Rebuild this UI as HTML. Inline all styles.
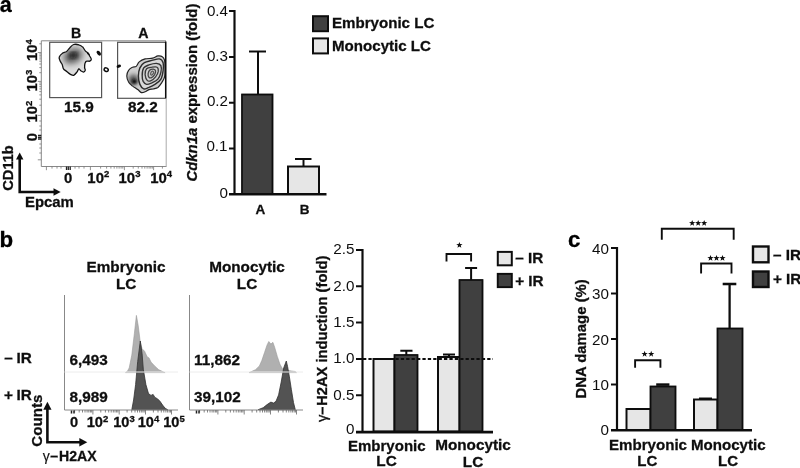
<!DOCTYPE html>
<html><head><meta charset="utf-8">
<style>
html,body{margin:0;padding:0;background:#fff;}
body{width:800px;height:468px;overflow:hidden;}
svg{display:block;font-family:"Liberation Sans",sans-serif;}
.b{font-weight:bold;}
.ax{stroke:#111;stroke-width:2.2;fill:none;}
.tk{stroke:#111;stroke-width:2;fill:none;}
.dk{fill:#404040;stroke:#111;stroke-width:1.8;}
.lt{fill:#e6e6e6;stroke:#111;stroke-width:2;}
.eb{stroke:#111;stroke-width:2;fill:none;}
.br{stroke:#111;stroke-width:1.9;fill:none;}
.t{font-size:15.2px;fill:#111;}
.tb{font-size:15.3px;font-weight:bold;fill:#111;stroke:#111;stroke-width:0.3px;}
.gate{fill:none;stroke:#555;stroke-width:1.2;}
.thin{stroke:#777;stroke-width:1;fill:none;}
</style></head><body>
<svg width="800" height="468" viewBox="0 0 800 468">
<defs>
<filter id="bl1" x="-30%" y="-30%" width="160%" height="160%"><feGaussianBlur stdDeviation="2.2"/></filter>
<filter id="bl3" x="-40%" y="-40%" width="180%" height="180%"><feGaussianBlur stdDeviation="3.2"/></filter>
<filter id="bl2" x="-30%" y="-30%" width="160%" height="160%"><feGaussianBlur stdDeviation="1.2"/></filter>
<filter id="soft"><feGaussianBlur stdDeviation="0.45"/></filter>
</defs>
<rect width="800" height="468" fill="#fff"/>
<g filter="url(#soft)">
<!-- ================= PANEL a ================= -->
<text x="-0.300" y="12.300" class="b" style="font-size:21.500px;stroke:#000;stroke-width:0.3px">a</text>

<!-- flow plot a -->
<g id="flowA">
<path d="M166 40.800H41.300V166.500H166.500" fill="none" stroke="#888" stroke-width="1"/><path d="M166.200 98V166.500" fill="none" stroke="#aaa" stroke-width="1"/>
<rect class="gate" x="49.700" y="42.300" width="51.900" height="55.300"/>
<rect class="gate" x="117.600" y="42.300" width="48" height="56"/>
<text x="76.200" y="37.700" text-anchor="middle" class="tb" style="font-size:14.2px">B</text>
<text x="143.300" y="37.700" text-anchor="middle" class="tb" style="font-size:14.2px">A</text>
<text x="79" y="111.700" text-anchor="middle" class="tb">15.9</text>
<text x="143" y="111.700" text-anchor="middle" class="tb">82.2</text>
<!-- blob B -->
<path d="M59.2 57.3 C59.6 56.0 60.9 54.4 62.2 53.5 C63.4 52.5 65.4 52.5 66.7 51.5 C67.9 50.6 68.7 48.9 69.9 47.7 C71.0 46.5 72.2 45.0 73.7 44.5 C75.2 44.0 77.4 44.4 78.8 44.9 C80.3 45.3 81.6 46.0 82.7 47.1 C83.8 48.1 84.4 49.9 85.3 50.9 C86.1 51.9 87.1 52.0 87.8 52.8 C88.6 53.7 89.2 55.0 89.7 56.0 C90.3 57.1 91.3 58.4 91.3 59.2 C91.3 60.1 90.5 60.8 89.7 61.2 C89.0 61.5 87.4 60.7 86.5 61.2 C85.7 61.6 85.2 62.6 84.9 63.7 C84.6 64.8 84.6 66.5 84.6 67.6 C84.7 68.6 85.4 69.4 85.3 70.1 C85.1 70.9 84.3 71.9 83.6 72.1 C82.8 72.2 81.6 71.3 80.8 70.8 C80.0 70.2 79.5 68.6 78.8 68.8 C78.2 69.1 77.8 71.0 76.9 72.1 C76.1 73.1 74.8 74.9 73.7 75.3 C72.6 75.6 71.7 75.0 70.5 74.4 C69.3 73.7 67.8 72.3 66.7 71.4 C65.5 70.5 64.2 70.0 63.5 68.8 C62.7 67.7 62.7 65.6 62.2 64.4 C61.6 63.1 60.7 62.3 60.3 61.2 C59.8 60.0 58.9 58.6 59.2 57.3Z" fill="#dcdcdc" stroke="#111" stroke-width="1.3"/>
<clipPath id="cB"><path d="M59.2 57.3 C59.6 56.0 60.9 54.4 62.2 53.5 C63.4 52.5 65.4 52.5 66.7 51.5 C67.9 50.6 68.7 48.9 69.9 47.7 C71.0 46.5 72.2 45.0 73.7 44.5 C75.2 44.0 77.4 44.4 78.8 44.9 C80.3 45.3 81.6 46.0 82.7 47.1 C83.8 48.1 84.4 49.9 85.3 50.9 C86.1 51.9 87.1 52.0 87.8 52.8 C88.6 53.7 89.2 55.0 89.7 56.0 C90.3 57.1 91.3 58.4 91.3 59.2 C91.3 60.1 90.5 60.8 89.7 61.2 C89.0 61.5 87.4 60.7 86.5 61.2 C85.7 61.6 85.2 62.6 84.9 63.7 C84.6 64.8 84.6 66.5 84.6 67.6 C84.7 68.6 85.4 69.4 85.3 70.1 C85.1 70.9 84.3 71.9 83.6 72.1 C82.8 72.2 81.6 71.3 80.8 70.8 C80.0 70.2 79.5 68.6 78.8 68.8 C78.2 69.1 77.8 71.0 76.9 72.1 C76.1 73.1 74.8 74.9 73.7 75.3 C72.6 75.6 71.7 75.0 70.5 74.4 C69.3 73.7 67.8 72.3 66.7 71.4 C65.5 70.5 64.2 70.0 63.5 68.8 C62.7 67.7 62.7 65.6 62.2 64.4 C61.6 63.1 60.7 62.3 60.3 61.2 C59.8 60.0 58.9 58.6 59.2 57.3Z"/></clipPath>
<g clip-path="url(#cB)"><ellipse cx="73" cy="56" rx="10" ry="7" fill="#555" filter="url(#bl3)" transform="rotate(-25 73 56)"/><ellipse cx="73.300" cy="55.200" rx="3.500" ry="2.500" fill="#111" filter="url(#bl1)"/></g>
<path d="M86.500 51.500 l2.800 2.200 l0.800 2.200 l-3 -2z" fill="#111"/>
<!-- specks -->
<ellipse cx="98.800" cy="53.200" rx="1.700" ry="2.800" fill="#111" transform="rotate(-40 98.800 53.200)"/>
<ellipse cx="118.800" cy="66.200" rx="2.300" ry="1.500" fill="#111" transform="rotate(-20 118.800 66.200)"/>
<ellipse cx="106.200" cy="69.700" rx="2.100" ry="1.700" fill="#fff" stroke="#111" stroke-width="1.500" transform="rotate(25 106.200 69.700)"/>
<!-- blob A -->
<path d="M126.8 76.1 C126.8 74.1 127.7 71.7 128.7 70.2 C129.6 68.7 131.2 67.8 132.4 67.2 C133.7 66.5 135.1 67.3 136.2 66.4 C137.3 65.5 137.7 63.2 139.2 61.9 C140.7 60.7 142.9 59.6 145.1 58.9 C147.4 58.3 150.5 58.7 152.6 58.2 C154.7 57.7 156.2 56.2 157.9 55.9 C159.5 55.7 161.2 55.9 162.3 56.7 C163.5 57.4 164.1 58.6 164.6 60.4 C165.0 62.3 165.0 65.2 165.0 67.9 C165.0 70.7 165.2 74.4 164.6 76.9 C164.0 79.4 162.7 81.1 161.6 82.9 C160.5 84.6 159.2 86.4 157.9 87.4 C156.5 88.4 154.9 88.5 153.4 88.9 C151.9 89.2 150.3 89.1 148.9 89.6 C147.5 90.1 146.4 91.3 145.1 91.8 C143.9 92.3 142.7 93.0 141.4 92.6 C140.2 92.2 139.2 90.7 137.7 89.6 C136.2 88.5 133.9 87.1 132.4 85.9 C130.9 84.6 129.6 83.7 128.7 82.1 C127.7 80.5 126.8 78.1 126.8 76.1Z" fill="#cfcfcf" stroke="#222" stroke-width="1.2"/>
<clipPath id="cA"><path d="M126.8 76.1 C126.8 74.1 127.7 71.7 128.7 70.2 C129.6 68.7 131.2 67.8 132.4 67.2 C133.7 66.5 135.1 67.3 136.2 66.4 C137.3 65.5 137.7 63.2 139.2 61.9 C140.7 60.7 142.9 59.6 145.1 58.9 C147.4 58.3 150.5 58.7 152.6 58.2 C154.7 57.7 156.2 56.2 157.9 55.9 C159.5 55.7 161.2 55.9 162.3 56.7 C163.5 57.4 164.1 58.6 164.6 60.4 C165.0 62.3 165.0 65.2 165.0 67.9 C165.0 70.7 165.2 74.4 164.6 76.9 C164.0 79.4 162.7 81.1 161.6 82.9 C160.5 84.6 159.2 86.4 157.9 87.4 C156.5 88.4 154.9 88.5 153.4 88.9 C151.9 89.2 150.3 89.1 148.9 89.6 C147.5 90.1 146.4 91.3 145.1 91.8 C143.9 92.3 142.7 93.0 141.4 92.6 C140.2 92.2 139.2 90.7 137.7 89.6 C136.2 88.5 133.9 87.1 132.4 85.9 C130.9 84.6 129.6 83.7 128.7 82.1 C127.7 80.5 126.8 78.1 126.8 76.1Z"/></clipPath>
<g clip-path="url(#cA)"><ellipse cx="133.500" cy="80" rx="5" ry="5.500" fill="#555" filter="url(#bl1)"/><ellipse cx="134.300" cy="81.500" rx="2.500" ry="2.200" fill="#111" filter="url(#bl2)"/></g>
<path d="M138.4 76.1 C138.4 73.4 138.9 70.2 139.9 67.9 C140.9 65.7 142.4 63.9 144.4 62.7 C146.4 61.4 149.4 61.1 151.9 60.4 C154.4 59.8 157.5 58.6 159.4 58.9 C161.2 59.3 162.5 60.7 163.1 62.7 C163.7 64.7 163.5 68.2 163.1 70.9 C162.7 73.6 162.2 76.9 160.9 79.1 C159.5 81.4 156.9 83.0 154.9 84.4 C152.9 85.7 150.8 86.6 148.9 87.4 C147.0 88.1 145.1 89.4 143.7 88.9 C142.2 88.4 140.8 86.5 139.9 84.4 C139.0 82.2 138.4 78.9 138.4 76.1Z" fill="#d8d8d8" stroke="#2a2a2a" stroke-width="1.400"/>
<path d="M142.2 75.4 C142.2 73.1 142.5 69.7 143.7 67.9 C144.8 66.2 146.8 65.7 148.9 64.9 C151.0 64.2 154.4 63.3 156.4 63.4 C158.4 63.6 160.1 64.2 160.9 65.7 C161.6 67.2 161.4 70.2 160.9 72.4 C160.4 74.6 159.4 77.4 157.9 79.1 C156.4 80.9 153.7 82.0 151.9 82.9 C150.0 83.7 148.1 84.6 146.6 84.4 C145.2 84.1 144.0 82.9 143.2 81.4 C142.5 79.9 142.1 77.6 142.2 75.4Z" fill="#cfcfcf" stroke="#333" stroke-width="1.400"/>
<path d="M145.1 74.6 C145.0 72.6 145.5 69.9 146.6 68.7 C147.8 67.4 150.1 67.4 151.9 67.2 C153.6 66.9 156.1 66.4 157.1 67.2 C158.2 67.9 158.4 70.0 158.2 71.7 C157.9 73.3 156.8 75.4 155.6 76.9 C154.4 78.4 152.5 80.0 151.1 80.6 C149.8 81.2 148.4 81.6 147.4 80.6 C146.4 79.6 145.3 76.6 145.1 74.6Z" fill="#d4d4d4" stroke="#3a3a3a" stroke-width="1.300"/>
<path d="M148.1 73.9 C148.3 72.7 148.8 71.0 149.6 70.2 C150.5 69.4 152.4 69.0 153.4 69.1 C154.4 69.2 155.4 70.0 155.6 70.9 C155.8 71.8 155.2 73.5 154.6 74.6 C153.9 75.8 152.5 77.2 151.6 77.6 C150.6 78.1 149.5 77.8 148.9 77.2 C148.3 76.6 148.0 75.1 148.1 73.9Z" fill="#c8c8c8" stroke="#444" stroke-width="1.300"/>
<path d="M150.7 73.1 C150.9 72.5 151.7 71.4 152.2 71.2 C152.7 71.0 153.6 71.6 153.7 72.1 C153.8 72.6 153.2 73.7 152.8 74.2 C152.4 74.7 151.5 75.3 151.1 75.1 C150.8 74.9 150.5 73.8 150.7 73.1Z" fill="#bbb" stroke="#555" stroke-width="1.100"/>
<path d="M165.700 41.500V98" stroke="#111" stroke-width="1.500" fill="none"/>
<!-- y tick labels rotated -->
<g class="tb" style="font-size:14.8px">
<text transform="translate(37 50) rotate(-90)" text-anchor="middle">10<tspan dy="-5" style="font-size:9.500px">4</tspan></text>
<text transform="translate(37 80.500) rotate(-90)" text-anchor="middle">10<tspan dy="-5" style="font-size:9.500px">3</tspan></text>
<text transform="translate(37 111.500) rotate(-90)" text-anchor="middle">10<tspan dy="-5" style="font-size:9.500px">2</tspan></text>
<text transform="translate(36.500 137.200) rotate(-90)" text-anchor="middle">0</text>
</g>
<g class="tb" style="font-size:14.9px">
<text x="68.200" y="182.800" text-anchor="middle">0</text>
<text x="98.300" y="182.800" text-anchor="middle">10<tspan dy="-5.500" style="font-size:9.500px">2</tspan></text>
<text x="129.500" y="182.800" text-anchor="middle">10<tspan dy="-5.500" style="font-size:9.500px">3</tspan></text>
<text x="161.200" y="182.800" text-anchor="middle">10<tspan dy="-5.500" style="font-size:9.500px">4</tspan></text>
</g>
<!-- ticks -->
<path d="M37.800 52.5H41.300 M37.800 81.4H41.300 M37.800 115.4H41.300 M37.800 159.8H41.300 M39.300 72.7H41.300 M39.300 67.6H41.300 M39.300 64.0H41.300 M39.300 61.2H41.300 M39.300 58.9H41.300 M39.300 57.0H41.300 M39.300 55.3H41.300 M39.300 53.8H41.300 M39.300 105.2H41.300 M39.300 99.2H41.300 M39.300 94.9H41.300 M39.300 91.6H41.300 M39.300 88.9H41.300 M39.300 86.7H41.300 M39.300 84.7H41.300 M39.300 83.0H41.300 M39.300 43.8H41.300 M39.300 121H41.300 M39.300 126H41.300 M39.300 130H41.300 M39.300 144H41.300 M39.300 148H41.300 M39.300 153H41.300 M46.4 166.500V170.200 M90.4 166.500V170.200 M124.4 166.500V170.200 M153.6 166.500V170.200 M100.6 166.500V168.600 M106.6 166.500V168.600 M110.9 166.500V168.600 M114.2 166.500V168.600 M116.9 166.500V168.600 M119.1 166.500V168.600 M121.1 166.500V168.600 M122.8 166.500V168.600 M133.2 166.500V168.600 M138.3 166.500V168.600 M142.0 166.500V168.600 M144.8 166.500V168.600 M147.1 166.500V168.600 M149.1 166.500V168.600 M150.8 166.500V168.600 M152.3 166.500V168.600 M162.4 166.500V168.600 M52 166.500V168.600 M57 166.500V168.600 M61 166.500V168.600 M75 166.500V168.600 M79 166.500V168.600 M84 166.500V168.600 " stroke="#777" stroke-width="0.800" fill="none"/>
<path d="M38 135.500H41.300M38 137.300H41.300M38 139H41.300M66.500 166.500V170M68.300 166.500V170M70.200 166.500V170" stroke="#222" stroke-width="1.300" fill="none"/>
<!-- arrows -->
<path d="M19.700 157 V192 H55" stroke="#111" stroke-width="2.600" fill="none"/>
<path d="M19.700 152.600 L16 159.500 H23.400 Z" fill="#111"/>
<path d="M60.700 192 L53.500 188.200 V195.800 Z" fill="#111"/>
<text transform="translate(12.500 168) rotate(-90)" text-anchor="middle" class="tb" style="font-size:14.6px">CD11b</text>
<text x="25" y="206.500" class="tb" style="font-size:14.9px">Epcam</text>
</g>

<!-- bar chart a -->
<g id="barA">
<text transform="translate(196.600 92.600) rotate(-90)" text-anchor="middle" class="tb" style="font-size:14.9px"><tspan font-style="italic">Cdkn1a</tspan> expression (fold)</text>
<rect class="dk" x="242" y="94.500" width="30.500" height="99.500"/>
<rect class="lt" x="288" y="166.5" width="31" height="27.5"/>
<path class="eb" d="M258 94V51.5 M249 51.5H266"/>
<path class="eb" d="M303.5 166V159 M295 159H311.5"/>
<path class="ax" d="M234.500 10 V194"/><path d="M229 194.200 H326.500" stroke="#111" stroke-width="2.600" fill="none"/>
<path class="tk" d="M229 11H234 M229 57H234 M229 102.8H234 M229 148.6H234"/>
<g class="t" text-anchor="end">
<text x="228" y="15.800">0.4</text>
<text x="228" y="61">0.3</text>
<text x="228" y="106">0.2</text>
<text x="227.500" y="151">0.1</text>
<text x="228" y="198.300">0</text>
</g>
<text x="260.300" y="213.500" text-anchor="middle" class="tb" style="font-size:13.5px">A</text>
<text x="304.700" y="213.500" text-anchor="middle" class="tb" style="font-size:13.5px">B</text>
<rect class="dk" x="313" y="16.200" width="15" height="15" style="stroke-width:2"/>
<rect class="lt" x="313" y="38.400" width="15" height="15" style="stroke-width:2"/>
<text x="332" y="27.800" class="tb" style="font-size:15.1px">Embryonic LC</text>
<text x="332" y="51.300" class="tb" style="font-size:15.1px">Monocytic LC</text>
</g>

<!-- ================= PANEL b ================= -->
<text x="-0.500" y="247.200" class="b" style="font-size:22.300px;stroke:#000;stroke-width:0.3px">b</text>
<g id="histB">
<text x="126.100" y="272" text-anchor="middle" class="tb">Embryonic</text>
<text x="126.100" y="289" text-anchor="middle" class="tb">LC</text>
<text x="247" y="272" text-anchor="middle" class="tb">Monocytic</text>
<text x="247" y="289" text-anchor="middle" class="tb">LC</text>
<text x="4.300" y="362.700" class="tb">–</text><text x="16.400" y="362.700" class="tb">IR</text>
<text x="4" y="400.200" class="tb">+</text><text x="16.400" y="400.200" class="tb">IR</text>
<!-- panel 1 -->
<path d="M125.4 372.6 L127.4 371.3 L129.2 367.9 L131.8 355.1 L134.4 333.3 L136.4 315.4 L138.2 325.6 L140.3 342.3 L142.1 348.7 L144.6 351.3 L147.2 356.9 L149.0 357.9 L151.0 362.1 L154.9 366.2 L158.7 369.7 L163.8 372.1 L165.1 372.6Z" fill="#b0b0b0" stroke="#999" stroke-width="0.600"/>
<path d="M131.8 409.7 L133.6 400.0 L135.6 384.6 L137.7 361.5 L140.3 341.0 L142.1 353.8 L143.3 369.2 L145.9 384.6 L148.5 393.6 L151.0 395.4 L153.1 394.4 L154.9 397.4 L157.4 398.7 L160.0 401.3 L162.6 405.1 L165.1 408.2 L167.7 409.7Z" fill="#525252" stroke="#333" stroke-width="0.800"/>
<path d="M64.500 295 V410 H178" stroke="#888" stroke-width="1" fill="none"/>
<path d="M64.500 372 H178" stroke="#ececec" stroke-width="1" fill="none"/>
<!-- panel 2 -->
<path d="M249.1 372.6 L255.5 369.7 L259.4 365.9 L261.9 360.3 L264.5 352.6 L267.1 344.9 L268.8 341.5 L270.9 344.1 L272.9 342.3 L274.7 347.4 L277.3 356.4 L279.9 364.1 L282.4 368.7 L286.3 370.3 L295.3 371.5 L296.5 372.6Z" fill="#b0b0b0" stroke="#999" stroke-width="0.600"/>
<path d="M258.1 409.7 L263.2 407.7 L267.1 404.6 L270.9 402.1 L273.5 403.1 L276.0 401.3 L278.6 394.9 L281.2 382.1 L283.7 367.9 L286.3 361.0 L287.6 366.7 L289.4 376.9 L291.4 389.7 L293.5 402.6 L295.3 409.7Z" fill="#525252" stroke="#333" stroke-width="0.800"/>
<path d="M189.500 295 V410 H303" stroke="#888" stroke-width="1" fill="none"/>
<path d="M189.500 372 H303" stroke="#ececec" stroke-width="1" fill="none"/>
<text x="69.500" y="364.500" class="tb">6,493</text>
<text x="69.500" y="402.400" class="tb">8,989</text>
<text x="194" y="364.500" class="tb">11,862</text>
<text x="194" y="402.400" class="tb">39,102</text>
<!-- x ticks -->
<path d="M92.9 410V414.500 M119.2 410V414.500 M145.5 410V414.500 M171.5 410V414.500 M74.6 410V412.500 M79.2 410V412.500 M82.5 410V412.500 M85.0 410V412.500 M87.1 410V412.500 M88.8 410V412.500 M90.4 410V412.500 M91.7 410V412.500 M100.8 410V412.500 M105.4 410V412.500 M108.7 410V412.500 M111.2 410V412.500 M113.3 410V412.500 M115.0 410V412.500 M116.6 410V412.500 M117.9 410V412.500 M127.1 410V412.500 M131.7 410V412.500 M135.0 410V412.500 M137.5 410V412.500 M139.6 410V412.500 M141.3 410V412.500 M142.9 410V412.500 M144.2 410V412.500 M153.4 410V412.500 M158.0 410V412.500 M161.3 410V412.500 M163.8 410V412.500 M165.9 410V412.500 M167.6 410V412.500 M169.2 410V412.500 M170.5 410V412.500 M217.9 410V414.500 M244.2 410V414.500 M270.5 410V414.500 M296.5 410V414.500 M199.6 410V412.500 M204.2 410V412.500 M207.5 410V412.500 M210.0 410V412.500 M212.1 410V412.500 M213.8 410V412.500 M215.4 410V412.500 M216.7 410V412.500 M225.8 410V412.500 M230.4 410V412.500 M233.7 410V412.500 M236.2 410V412.500 M238.3 410V412.500 M240.0 410V412.500 M241.6 410V412.500 M242.9 410V412.500 M252.1 410V412.500 M256.7 410V412.500 M260.0 410V412.500 M262.5 410V412.500 M264.6 410V412.500 M266.3 410V412.500 M267.9 410V412.500 M269.2 410V412.500 M278.4 410V412.500 M283.0 410V412.500 M286.3 410V412.500 M288.8 410V412.500 M290.9 410V412.500 M292.6 410V412.500 M294.2 410V412.500 M295.5 410V412.500 " stroke="#666" stroke-width="0.8" fill="none"/><path d="M71.500 410.500V413.500M74 410.500V413.500M196.500 410.500V413.500M199 410.500V413.500" stroke="#222" stroke-width="1.500" fill="none"/>
<g class="tb" style="font-size:14.6px">
<text x="74" y="427" text-anchor="middle">0</text>
<text x="97.500" y="427" text-anchor="middle">10<tspan dy="-5.500" style="font-size:9.500px">2</tspan></text>
<text x="124" y="427" text-anchor="middle">10<tspan dy="-5.500" style="font-size:9.500px">3</tspan></text>
<text x="148.500" y="427" text-anchor="middle">10<tspan dy="-5.500" style="font-size:9.500px">4</tspan></text>
<text x="174" y="427" text-anchor="middle">10<tspan dy="-5.500" style="font-size:9.500px">5</tspan></text>
</g>
<!-- arrows -->
<path d="M47.400 408 V442.200 H81" stroke="#111" stroke-width="2.600" fill="none"/>
<path d="M47.400 401.800 L43.300 409.800 H51.500 Z" fill="#111"/>
<path d="M87.300 442.200 L79.300 438 V446.400 Z" fill="#111"/>
<text transform="translate(41.900 420.700) rotate(-90)" text-anchor="middle" class="tb" style="font-size:15.1px">Counts</text>
<g class="tb" style="font-size:14.1px"><text x="59" y="460.600">H2AX</text><text x="50.200" y="460.600">–</text><text x="42.800" y="460.600" style="font-weight:normal;stroke-width:0.15px">γ</text></g>
</g>

<g id="barB">
<text transform="translate(326.500 405.800) rotate(-90)" class="tb" style="font-size:14.7px">H2AX induction (fold)</text><text transform="translate(326.500 406.600) rotate(-90)" text-anchor="end" class="tb" style="font-size:14.7px"><tspan style="font-weight:normal">γ</tspan>–</text>
<rect class="lt" x="373.500" y="359" width="21" height="72.500"/>
<rect class="dk" x="394.500" y="355" width="23" height="76.500"/>
<rect class="lt" x="438" y="357" width="21.500" height="74.500"/>
<rect class="dk" x="459.500" y="280" width="23" height="151.500"/>
<path class="eb" d="M406.300 355V350.700 M400.300 350.700H412.500"/>
<path class="eb" d="M449 357V354.500 M443 354.500H455"/>
<path class="eb" d="M471.100 280V268.100 M465.100 268.100H477.100"/>
<path d="M363 359H493" stroke="#111" stroke-width="2" stroke-dasharray="3.300 2.100" fill="none"/>
<path class="ax" d="M362.500 249 V431.500"/><path d="M356 432.100 H493" stroke="#111" stroke-width="2.600" fill="none"/>
<path class="tk" d="M356 250H362 M356 286.300H362 M356 322.600H362 M356 358.900H362 M356 395.200H362"/>
<g class="t" text-anchor="end">
<text x="354.400" y="253.800">2.5</text>
<text x="354.400" y="290.600">2.0</text>
<text x="354.400" y="327">1.5</text>
<text x="354.400" y="363.400">1.0</text>
<text x="354.400" y="399.900">0.5</text>
<text x="354.400" y="434.200">0</text>
</g>
<path class="br" d="M446.500 261.500V254H471.100V261.500"/>
<polygon points="459.40,241.90 460.19,244.11 462.54,244.18 460.68,245.62 461.34,247.87 459.40,246.55 457.46,247.87 458.12,245.62 456.26,244.18 458.61,244.11" fill="#111"/>
<rect class="lt" x="497.800" y="251.900" width="14" height="13.400"/>
<rect class="dk" x="497.800" y="273.900" width="14" height="13.200" style="stroke-width:2"/>
<text x="515.200" y="263.400" class="tb">– IR</text>
<text x="515.200" y="286" class="tb">+ IR</text>
<text x="386.800" y="450.600" text-anchor="middle" class="tb" style="font-size:15px">Embryonic</text>
<text x="386.500" y="466.200" text-anchor="middle" class="tb">LC</text>
<text x="473" y="450" text-anchor="middle" class="tb">Monocytic</text>
<text x="473" y="466.500" text-anchor="middle" class="tb">LC</text>
</g>

<!-- ================= PANEL c ================= -->
<text x="568" y="247.100" class="b" style="font-size:22.200px;stroke:#000;stroke-width:0.3px">c</text>
<g id="barC">
<text transform="translate(586 279.200) rotate(-90)" text-anchor="end" class="tb" style="font-size:14.9px">DNA damage (%)</text>
<rect class="lt" x="626.500" y="409" width="24" height="21"/>
<rect class="dk" x="650.500" y="386.500" width="25" height="43.500"/>
<rect class="lt" x="694" y="399.500" width="23.500" height="30.500"/>
<rect class="dk" x="717.500" y="328.500" width="25" height="101.500"/>
<path d="M656.200 384.600H669.400" stroke="#111" stroke-width="2.600" fill="none"/>
<path class="eb" d="M705.500 399.500V398.500 M699 398.500H712"/>
<path class="eb" d="M729.600 328V284 M722.700 284H736.300" style="stroke-width:2.300"/>
<path class="ax" d="M617 247 V430" /><path d="M611 430.300 H752" stroke="#111" stroke-width="2.600" fill="none"/>
<path class="tk" d="M611 248H617 M611 293.500H617 M611 339H617 M611 384.500H617"/>
<g class="t" text-anchor="end">
<text x="609" y="253.500">40</text>
<text x="609" y="299">30</text>
<text x="609" y="344.500">20</text>
<text x="609" y="390">10</text>
<text x="609" y="434.600">0</text>
</g>
<path class="br" d="M661.800 239.800V228.800H733.700V239.800"/>
<polygon points="692.20,219.90 692.99,222.11 695.34,222.18 693.48,223.62 694.14,225.87 692.20,224.55 690.26,225.87 690.92,223.62 689.06,222.18 691.41,222.11" fill="#111"/><polygon points="698.20,219.90 698.99,222.11 701.34,222.18 699.48,223.62 700.14,225.87 698.20,224.55 696.26,225.87 696.92,223.62 695.06,222.18 697.41,222.11" fill="#111"/><polygon points="704.20,219.90 704.99,222.11 707.34,222.18 705.48,223.62 706.14,225.87 704.20,224.55 702.26,225.87 702.92,223.62 701.06,222.18 703.41,222.11" fill="#111"/>
<path class="br" d="M701.100 273.600V263.500H731.500V273.600"/>
<polygon points="710.50,254.90 711.29,257.11 713.64,257.18 711.78,258.62 712.44,260.87 710.50,259.55 708.56,260.87 709.22,258.62 707.36,257.18 709.71,257.11" fill="#111"/><polygon points="716.50,254.90 717.29,257.11 719.64,257.18 717.78,258.62 718.44,260.87 716.50,259.55 714.56,260.87 715.22,258.62 713.36,257.18 715.71,257.11" fill="#111"/><polygon points="722.50,254.90 723.29,257.11 725.64,257.18 723.78,258.62 724.44,260.87 722.50,259.55 720.56,260.87 721.22,258.62 719.36,257.18 721.71,257.11" fill="#111"/>
<path class="br" d="M635.100 367.800V360.300H660.400V367.800"/>
<polygon points="644.60,350.70 645.39,352.91 647.74,352.98 645.88,354.42 646.54,356.67 644.60,355.35 642.66,356.67 643.32,354.42 641.46,352.98 643.81,352.91" fill="#111"/><polygon points="651.20,350.70 651.99,352.91 654.34,352.98 652.48,354.42 653.14,356.67 651.20,355.35 649.26,356.67 649.92,354.42 648.06,352.98 650.41,352.91" fill="#111"/>
<rect class="lt" x="753" y="246.500" width="15.500" height="15.800" style="stroke-width:2.400"/>
<rect class="dk" x="753" y="271.500" width="15.500" height="15.500" style="stroke-width:2.400"/>
<text x="772.900" y="260" class="tb">– IR</text>
<text x="772.900" y="284.200" class="tb">+ IR</text>
<text x="648" y="450.200" text-anchor="middle" class="tb" style="font-size:15.1px">Embryonic</text>
<text x="647.300" y="466.300" text-anchor="middle" class="tb" style="font-size:15px">LC</text>
<text x="728.300" y="450.200" text-anchor="middle" class="tb" style="font-size:15.1px">Monocytic</text>
<text x="728.100" y="466.300" text-anchor="middle" class="tb" style="font-size:15px">LC</text>
</g>
</g>
</svg>
</body></html>
